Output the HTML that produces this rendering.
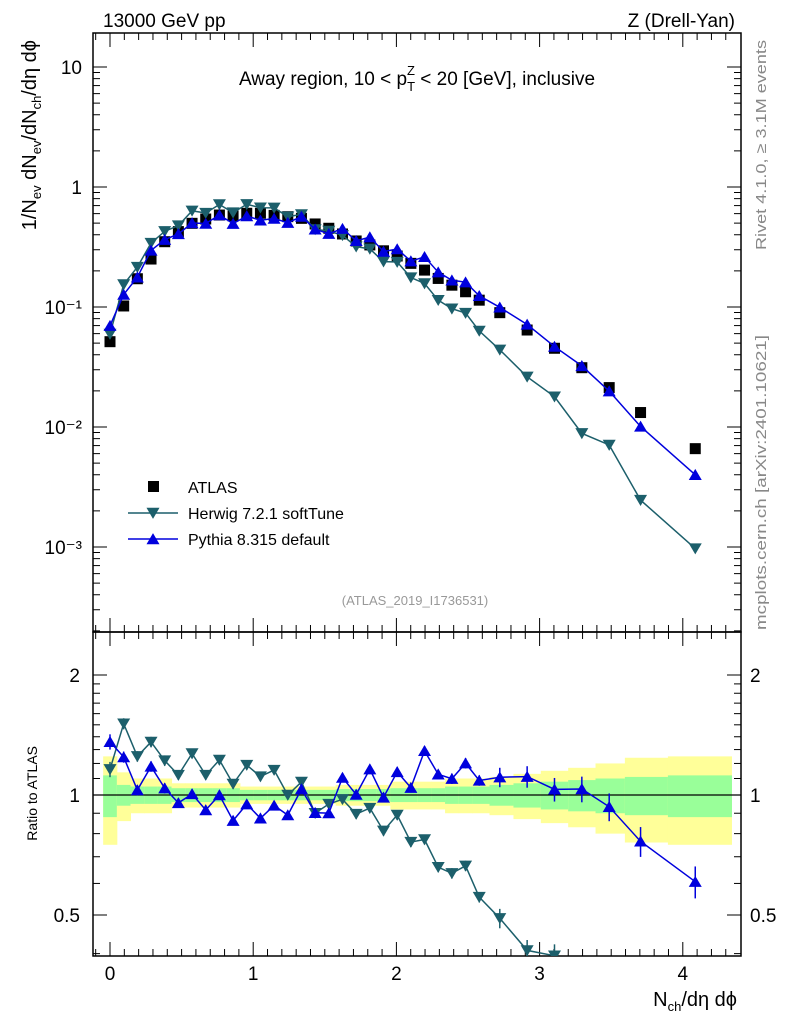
<!DOCTYPE html>
<html><head><meta charset="utf-8"><style>
body{margin:0;background:#fff;overflow:hidden;}
svg{display:block;font-family:"Liberation Sans",sans-serif;}
</style></head><body>
<svg id="c" width="786" height="1024" viewBox="0 0 786 1024" xmlns="http://www.w3.org/2000/svg">
<text x="103" y="27" font-size="19">13000 GeV pp</text>
<text x="735" y="27" font-size="19" text-anchor="end">Z (Drell-Yan)</text>
<text x="417" y="85" font-size="19" text-anchor="middle">Away region, 10 &lt; p<tspan font-size="13" dy="6">T</tspan><tspan font-size="13" dx="-8" dy="-16">Z</tspan><tspan dy="10"> &lt; 20 [GeV], inclusive</tspan></text>
<text transform="translate(36,40) rotate(-90)" font-size="20" text-anchor="end">1/N<tspan font-size="13" dy="5">ev</tspan><tspan dy="-5"> dN</tspan><tspan font-size="13" dy="5">ev</tspan><tspan dy="-5">/dN</tspan><tspan font-size="13" dy="5">ch</tspan><tspan dy="-5">/dη dϕ</tspan></text>
<text transform="translate(37,746) rotate(-90)" font-size="14" text-anchor="end">Ratio to ATLAS</text>
<text transform="translate(766,250) rotate(-90)" font-size="15" fill="#888" textLength="210" lengthAdjust="spacingAndGlyphs">Rivet 4.1.0, ≥ 3.1M events</text>
<text transform="translate(766,630) rotate(-90)" font-size="15" fill="#888" textLength="295" lengthAdjust="spacingAndGlyphs">mcplots.cern.ch [arXiv:2401.10621]</text>
<text x="415" y="605" font-size="13" fill="#999" text-anchor="middle">(ATLAS_2019_I1736531)</text>
<text x="737" y="1006" font-size="20" text-anchor="end">N<tspan font-size="13" dy="5">ch</tspan><tspan dy="-5">/dη dϕ</tspan></text>
<g id="g"></g>
</svg>
<script>
const xVals=[0,0.0955,0.191,0.2865,0.382,0.4775,0.573,0.6685,0.764,0.8595,0.955,1.0505,1.146,1.2415,1.337,1.4325,1.528,1.6235,1.719,1.8145,1.91,2.0055,2.101,2.1965,2.292,2.3875,2.483,2.5785,2.722,2.913,3.104,3.295,3.486,3.705,4.087];
const atlasVals=[0.0514,0.102,0.172,0.251,0.35,0.425,0.498,0.541,0.584,0.574,0.604,0.604,0.58,0.566,0.548,0.492,0.453,0.406,0.355,0.329,0.294,0.266,0.231,0.203,0.173,0.152,0.134,0.114,0.0897,0.0643,0.0453,0.0312,0.0213,0.0132,0.0066];
const herwigVals=[0.0596,0.154,0.215,0.341,0.427,0.477,0.633,0.607,0.715,0.612,0.718,0.672,0.670,0.566,0.591,0.443,0.430,0.396,0.318,0.305,0.239,0.237,0.176,0.157,0.114,0.0967,0.0890,0.0632,0.0440,0.0262,0.0179,0.00885,0.00708,0.00246,0.00097];
const pythiaVals=[0.0699,0.127,0.177,0.296,0.364,0.406,0.501,0.496,0.584,0.495,0.573,0.528,0.546,0.504,0.567,0.444,0.408,0.449,0.356,0.382,0.290,0.304,0.241,0.262,0.195,0.167,0.161,0.124,0.0994,0.0715,0.0468,0.0323,0.0199,0.0101,0.0040];
const totErr=[0.25,0.14,0.10,0.10,0.10,0.07,0.07,0.07,0.07,0.07,0.05,0.05,0.05,0.05,0.05,0.05,0.05,0.06,0.06,0.06,0.06,0.08,0.08,0.08,0.08,0.10,0.10,0.10,0.11,0.13,0.15,0.17,0.20,0.24,0.25];
const statErr=[0.12,0.06,0.05,0.05,0.05,0.04,0.04,0.04,0.04,0.04,0.03,0.03,0.03,0.03,0.03,0.03,0.03,0.035,0.035,0.035,0.035,0.04,0.04,0.04,0.04,0.05,0.05,0.05,0.06,0.07,0.08,0.09,0.10,0.11,0.12];
const mainTicks=["10","1","10⁻¹","10⁻²","10⁻³"];
const xTicks=["0","1","2","3","4"];

const L=93,R=741,T=33,MB=632,RB=956;
const X=v=>110+143.2*v;
const Y=v=>187-120*Math.log10(v);
const RY=r=>795-398.6*Math.log10(r);
const NS="http://www.w3.org/2000/svg";
const g=document.getElementById('g');
function mk(tag,at,par){const e=document.createElementNS(NS,tag);for(const k in at)e.setAttribute(k,at[k]);(par||g).appendChild(e);return e;}

const defs=mk('defs',{});
const c1=mk('clipPath',{id:'cm'},defs);mk('rect',{x:L,y:T,width:R-L,height:MB-T},c1);
const c2=mk('clipPath',{id:'cr'},defs);mk('rect',{x:L,y:MB,width:R-L,height:RB-MB},c2);

const bandG=mk('g',{'clip-path':'url(#cr)'});


function edges(i){const lo=i===0?xVals[0]-(xVals[1]-xVals[0])/2:(xVals[i-1]+xVals[i])/2;const hi=i===xVals.length-1?4.34:(xVals[i]+xVals[i+1])/2;return[lo,hi];}
for(let i=0;i<xVals.length;i++){const[a,b]=edges(i);
 const y1=mk('rect',{x:X(a),y:RY(1+totErr[i]),width:X(b)-X(a)+0.5,height:RY(1-totErr[i])-RY(1+totErr[i]),fill:'#ffff99'},bandG);
 
 
 const g1=mk('rect',{x:X(a),y:RY(1+statErr[i]),width:X(b)-X(a)+0.5,height:RY(1-statErr[i])-RY(1+statErr[i]),fill:'#99ff99'},bandG);
 
 
}
mk('line',{x1:L,x2:R,y1:RY(1),y2:RY(1),stroke:'#000','stroke-width':1.3});

for(const[t,b,n] of [[T,MB,'main-frame'],[MB,RB,'ratio-frame']]){const f=mk('rect',{x:L,y:t,width:R-L,height:b-t,fill:'none',stroke:'#000','stroke-width':1.5});}

for(let d=-4;d<=1;d++){for(let m=1;m<10;m++){const v=m*Math.pow(10,d);const y=Y(v);if(y<T||y>MB)continue;const len=m===1?14:7;
 mk('line',{x1:L,x2:L+len,y1:y,y2:y,stroke:'#000'});mk('line',{x1:R-len,x2:R,y1:y,y2:y,stroke:'#000'});}}
mainTicks.forEach((t,i)=>{const e=mk('text',{x:82,y:Y(Math.pow(10,1-i))+7,'font-size':19,'text-anchor':'end'});e.textContent=t;
 
 });
[0.4,0.5,0.6,0.7,0.8,0.9,1,1.1,1.2,1.3,1.4,1.5,1.6,1.7,1.8,1.9,2].forEach(r=>{const y=RY(r);if(y>RB)return;const big=(r===0.5||r===1||r===2);const len=big?14:7;
 mk('line',{x1:L,x2:L+len,y1:y,y2:y,stroke:'#000'});mk('line',{x1:R-len,x2:R,y1:y,y2:y,stroke:'#000'});});
[["2",2],["1",1],["0.5",0.5]].forEach(([t,r])=>{
 const e=mk('text',{x:80,y:RY(r)+7,'font-size':19,'text-anchor':'end'});e.textContent=t;
 
 
 const e2=mk('text',{x:750,y:RY(r)+7,'font-size':19});e2.textContent=t;
 
 });
for(let k=-1;k<=43;k++){const v=k/10;const x=X(v);if(x<L||x>R)continue;const big=k%10===0;const len=big?14:7;
 mk('line',{x1:x,x2:x,y1:MB,y2:MB-len,stroke:'#000'});mk('line',{x1:x,x2:x,y1:T,y2:T+len,stroke:'#000'});
 mk('line',{x1:x,x2:x,y1:RB,y2:RB-len,stroke:'#000'});mk('line',{x1:x,x2:x,y1:MB,y2:MB+len,stroke:'#000'});}
xTicks.forEach((t,i)=>{const e=mk('text',{x:X(i),y:980,'font-size':19,'text-anchor':'middle'});e.textContent=t;
 
 });

function tri(par,x,y,down,col,s){const h=s;return mk('path',{d:down?`M${x-h},${y-h*0.8}L${x+h},${y-h*0.8}L${x},${y+h*0.9}Z`:`M${x-h},${y+h*0.8}L${x+h},${y+h*0.8}L${x},${y-h*0.9}Z`,fill:col},par);}

function series(vals,col,down,name,ratio){
 const gm=mk('g',{'clip-path':ratio?'url(#cr)':'url(#cm)'});
 
 
 const f=ratio?(i=>RY(vals[i]/atlasVals[i])):(i=>Y(vals[i]));
 mk('polyline',{points:xVals.map((x,i)=>X(x)+','+f(i)).join(' '),fill:'none',stroke:col,'stroke-width':1.5},gm);
 xVals.forEach((x,i)=>{const y=f(i);
  if(ratio){const e=0.02+0.4*statErr[i]*(i>27?1.5:0.5);mk('line',{x1:X(x),x2:X(x),y1:RY(vals[i]/atlasVals[i]*(1+e)),y2:RY(vals[i]/atlasVals[i]*(1-e)),stroke:col,'stroke-width':1.5},gm);}
  const m=tri(gm,X(x),y,down,col,6.5);
  
  });
}
const ag=mk('g',{'clip-path':'url(#cm)'});


xVals.forEach((x,i)=>{const r=mk('rect',{x:X(x)-5.5,y:Y(atlasVals[i])-5.5,width:11,height:11,fill:'#000'},ag);
 
 });
series(herwigVals,'#1c5f6b',true,'herwig-series',false);
series(pythiaVals,'#0000dd',false,'pythia-series',false);
series(herwigVals,'#1c5f6b',true,'herwig-ratio',true);
series(pythiaVals,'#0000dd',false,'pythia-ratio',true);

const lg=mk('g',{});


mk('rect',{x:148,y:481,width:11,height:11,fill:'#000'},lg);
mk('line',{x1:128,x2:178,y1:513,y2:513,stroke:'#1c5f6b','stroke-width':1.5},lg);tri(lg,153,513,true,'#1c5f6b',6.5);
mk('line',{x1:128,x2:178,y1:539,y2:539,stroke:'#0000dd','stroke-width':1.5},lg);tri(lg,153,539,false,'#0000dd',6.5);
[["ATLAS",493],["Herwig 7.2.1 softTune",519],["Pythia 8.315 default",545]].forEach(([t,y])=>{const e=mk('text',{x:188,y:y,'font-size':16},lg);e.textContent=t;
 
 });
</script>
</body></html>
